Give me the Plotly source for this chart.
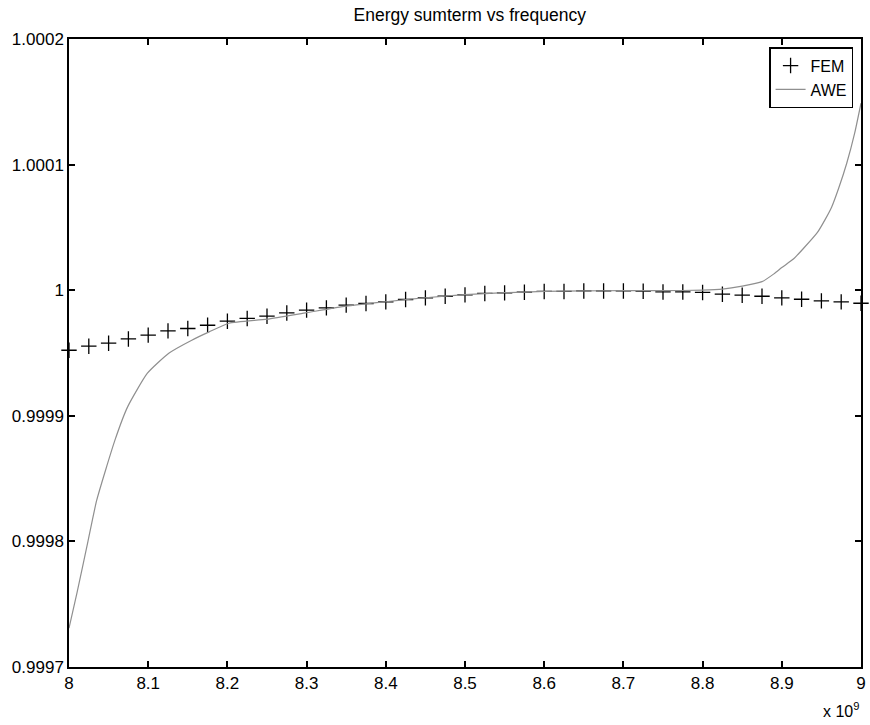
import plotly.graph_objects as go

# FEM samples (frequency in units of 1e9 Hz)
fem_freq = [8.000, 8.025, 8.050, 8.075, 8.100, 8.125, 8.150, 8.175, 8.200, 8.225,
            8.250, 8.275, 8.300, 8.325, 8.350, 8.375, 8.400, 8.425, 8.450, 8.475,
            8.500, 8.525, 8.550, 8.575, 8.600, 8.625, 8.650, 8.675, 8.700, 8.725,
            8.750, 8.775, 8.800, 8.825, 8.850, 8.875, 8.900, 8.925, 8.950, 8.975, 9.000]
fem_val = [0.9999522, 0.9999554, 0.9999578, 0.9999612, 0.9999642, 0.9999676, 0.9999695,
           0.9999721, 0.9999753, 0.9999775, 0.9999793, 0.9999819, 0.9999841, 0.9999859,
           0.9999881, 0.9999894, 0.9999907, 0.9999926, 0.9999939, 0.9999952, 0.9999963,
           0.9999974, 0.9999979, 0.9999984, 0.9999990, 0.9999990, 0.9999994, 0.9999994,
           0.9999994, 0.9999992, 0.9999986, 0.9999986, 0.9999982, 0.9999968, 0.9999960,
           0.9999952, 0.9999939, 0.9999928, 0.9999915, 0.9999907, 0.9999896]

# AWE curve samples
awe_freq = [8.000, 8.010, 8.024, 8.035, 8.058, 8.074, 8.099, 8.126, 8.155, 8.177, 8.202,
            8.250, 8.300, 8.350, 8.400, 8.450, 8.500, 8.550, 8.600, 8.650, 8.700, 8.750,
            8.800, 8.825, 8.850, 8.875, 8.890, 8.900, 8.915, 8.927, 8.945, 8.955, 8.963,
            8.972, 8.982, 8.992, 9.000]
awe_val = [0.9997309, 0.9997588, 0.9998002, 0.9998328, 0.9998806, 0.9999071, 0.9999339,
           0.9999498, 0.9999602, 0.9999668, 0.9999737, 0.9999769, 0.9999821, 0.9999873,
           0.9999908, 0.9999940, 0.9999964, 0.9999980, 0.9999990, 0.9999995, 0.9999996,
           0.9999996, 1.0000000, 1.0000008, 1.0000032, 1.0000068, 1.0000130, 1.0000180,
           1.0000250, 1.0000330, 1.0000460, 1.0000566, 1.0000663, 1.0000816, 1.0001011,
           1.0001250, 1.0001489]

x_ticks = [8.0, 8.1, 8.2, 8.3, 8.4, 8.5, 8.6, 8.7, 8.8, 8.9, 9.0]
x_ticktext = ["8", "8.1", "8.2", "8.3", "8.4", "8.5", "8.6", "8.7", "8.8", "8.9", "9"]
y_ticks = [0.9997, 0.9998, 0.9999, 1.0, 1.0001, 1.0002]
y_ticktext = ["0.9997", "0.9998", "0.9999", "1", "1.0001", "1.0002"]

FONT = "Liberation Sans, Arial, Helvetica, sans-serif"

fig = go.Figure()
fig.add_trace(go.Scatter(
    x=fem_freq, y=fem_val, mode="markers", name="FEM",
    marker=dict(symbol="cross-thin-open", size=11, color="black",
                line=dict(color="black", width=1.3)),
    cliponaxis=False,
))
fig.add_trace(go.Scatter(
    x=awe_freq, y=awe_val, mode="lines", name="AWE",
    line=dict(color="#8f8f8f", width=1.2, shape="spline", smoothing=0.5),
))

axis_common = dict(
    showgrid=False, zeroline=False, showline=True, linecolor="black", linewidth=1.5,
    mirror="allticks", ticks="inside", ticklen=6, tickwidth=1.5, tickcolor="black",
    tickfont=dict(family=FONT, size=17, color="black"),
)

fig.update_layout(
    width=870, height=725,
    margin=dict(l=69, r=4, t=39, b=58),
    paper_bgcolor="white", plot_bgcolor="white",
    font=dict(family=FONT, size=17, color="black"),
    title=dict(text="Energy sumterm vs frequency", x=0.54, xanchor="center",
               y=0.988, yanchor="top", font=dict(family=FONT, size=17.5, color="black")),
    xaxis=dict(range=[8.0, 9.0], tickvals=x_ticks, ticktext=x_ticktext, **axis_common),
    yaxis=dict(range=[0.9997, 1.0002], tickvals=y_ticks, ticktext=y_ticktext, **axis_common),
    legend=dict(x=0.99, y=0.987, xanchor="right", yanchor="top",
                bgcolor="white", bordercolor="black", borderwidth=1.5,
                font=dict(family=FONT, size=16, color="black"),
                itemwidth=30, tracegroupgap=0),
    showlegend=True,
)

fig.add_annotation(text="x 10<sup>9</sup>", xref="paper", yref="paper",
                   x=1.0, y=-0.088, xanchor="right", yanchor="bottom", showarrow=False,
                   font=dict(family=FONT, size=16, color="black"))

fig.write_html("out.html")
